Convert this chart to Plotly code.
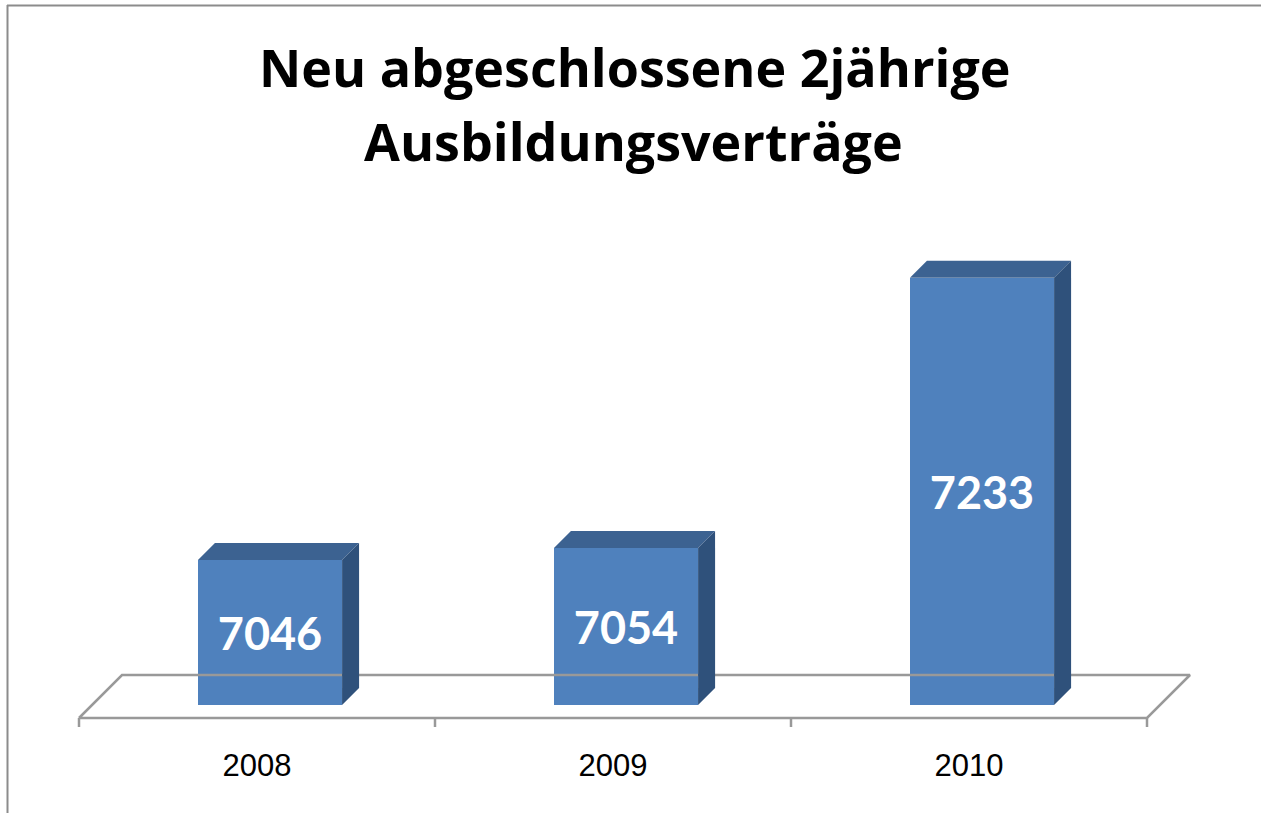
import plotly.graph_objects as go

# ---- data ----
years = ["2008", "2009", "2010"]
values = [7046, 7054, 7233]
axis_min = 6950
title_line1 = "Neu abgeschlossene 2jährige"
title_line2 = "Ausbildungsverträge"

# ---- layout constants (pixels) ----
W, H = 1261, 813
ML, MR, MT, MB = 70, 61, 240, 78
PX_PER_CAT = 356.0
PX_PER_UNIT = 1.51
FIRST_BAR_PX = 270
BASE_PX = 705
BAR_W = 0.405
BAR_DEPTH = 17
FLOOR_FRONT = -13
FLOOR_BACK = 30
TICK_PX = 9

FRONT = "#4F81BD"
TOP = "#3C6291"
SIDE = "#2F517B"
GRID = "#999999"


def dx(d):
    return d / PX_PER_CAT


def dy(d):
    return d / PX_PER_UNIT


x_left = (ML - FIRST_BAR_PX) / PX_PER_CAT
x_right = (W - MR - FIRST_BAR_PX) / PX_PER_CAT
y_top = axis_min + (BASE_PX - MT) / PX_PER_UNIT
y_bottom = axis_min - (H - MB - BASE_PX) / PX_PER_UNIT

n = len(years)
fig = go.Figure()

# floor
xf0 = -0.5 + dx(FLOOR_FRONT)
xf1 = n - 0.5 + dx(FLOOR_FRONT)
xb0 = -0.5 + dx(FLOOR_BACK)
xb1 = n - 0.5 + dx(FLOOR_BACK)
yf = axis_min + dy(FLOOR_FRONT)
yb = axis_min + dy(FLOOR_BACK)
fig.add_trace(go.Scatter(
    x=[xf0, xf1, xb1, xb0, xf0], y=[yf, yf, yb, yb, yf],
    mode="lines", line=dict(color=GRID, width=2.5), hoverinfo="skip", showlegend=False))
tx, ty = [], []
for k in range(n + 1):
    xx = k - 0.5 + dx(FLOOR_FRONT)
    tx += [xx, xx, None]
    ty += [yf, yf - dy(TICK_PX), None]
fig.add_trace(go.Scatter(x=tx, y=ty, mode="lines", line=dict(color=GRID, width=2.5),
                         hoverinfo="skip", showlegend=False))

# bar top and side faces
for i, v in enumerate(values):
    xl, xr = i - BAR_W / 2, i + BAR_W / 2
    fig.add_trace(go.Scatter(
        x=[xl, xr, xr + dx(BAR_DEPTH), xl + dx(BAR_DEPTH), xl],
        y=[v, v, v + dy(BAR_DEPTH), v + dy(BAR_DEPTH), v],
        fill="toself", fillcolor=TOP, mode="lines", line=dict(width=0, color=TOP),
        hoverinfo="skip", showlegend=False))
    fig.add_trace(go.Scatter(
        x=[xr, xr, xr + dx(BAR_DEPTH), xr + dx(BAR_DEPTH), xr],
        y=[axis_min, v, v + dy(BAR_DEPTH), axis_min + dy(BAR_DEPTH), axis_min],
        fill="toself", fillcolor=SIDE, mode="lines", line=dict(width=0, color=SIDE),
        hoverinfo="skip", showlegend=False))

# front faces
fig.add_trace(go.Bar(
    x=list(range(n)), y=[v - axis_min for v in values], base=axis_min,
    width=BAR_W, marker=dict(color=FRONT, line=dict(width=0)),
    text=[str(v) for v in values], textposition="inside", insidetextanchor="middle",
    textfont=dict(family="Lato", size=45, color="white", weight="bold"),
    constraintext="none", showlegend=False, hoverinfo="skip"))

fig.update_xaxes(range=[x_left, x_right], showgrid=False, zeroline=False, showline=False,
                 tickvals=[i + dx(FLOOR_FRONT) for i in range(n)], ticktext=years,
                 ticks="outside", ticklen=3, tickcolor="rgba(0,0,0,0)",
                 tickfont=dict(family="Liberation Sans", size=31, color="#000000"))
fig.update_yaxes(range=[y_bottom, y_top], showgrid=False, zeroline=False, showline=False,
                 showticklabels=False)


def px_to_paper_x(p):
    return (p - ML) / (W - ML - MR)


def px_to_paper_y(p):
    return (H - MB - p) / (H - MT - MB)


tfont = dict(family="Open Sans", size=52, color="#000000", weight="bold")
fig.add_annotation(text=title_line1, xref="paper", yref="paper", x=px_to_paper_x(635),
                   y=px_to_paper_y(67), xanchor="center", yanchor="middle",
                   showarrow=False, font=tfont)
fig.add_annotation(text=title_line2, xref="paper", yref="paper", x=px_to_paper_x(633),
                   y=px_to_paper_y(140), xanchor="center", yanchor="middle",
                   showarrow=False, font=tfont)

# chart border
border = dict(color="#8C8C8C", width=2)
fig.add_shape(type="line", xref="paper", yref="paper",
              x0=px_to_paper_x(7.5), x1=px_to_paper_x(7.5),
              y0=px_to_paper_y(5), y1=px_to_paper_y(813), line=border)
fig.add_shape(type="line", xref="paper", yref="paper",
              x0=px_to_paper_x(7), x1=px_to_paper_x(1261),
              y0=px_to_paper_y(5.5), y1=px_to_paper_y(5.5), line=border)

fig.update_layout(width=W, height=H, margin=dict(l=ML, r=MR, t=MT, b=MB, pad=0),
                  plot_bgcolor="white", paper_bgcolor="white", bargap=0,
                  hovermode=False)

fig.write_html("out.html", post_script="document.body.style.margin='0';",
               config={"displayModeBar": False})
